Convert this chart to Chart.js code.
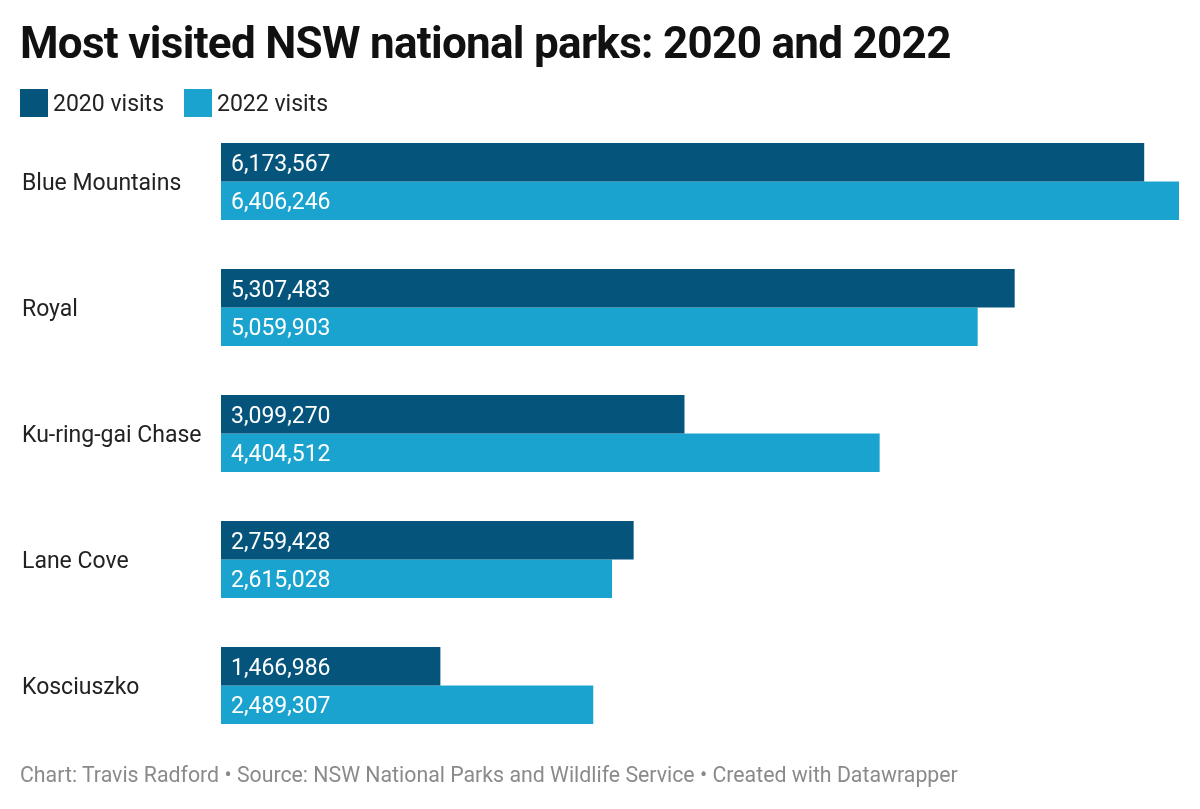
<!DOCTYPE html>
<html>
<head>
<meta charset="utf-8">
<script src="https://cdn.jsdelivr.net/npm/chart.js@4/dist/chart.umd.min.js"></script>
<style>
  html, body { margin: 0; padding: 0; background: #fff; }
  body { width: 1200px; height: 809px; position: relative; overflow: hidden; font-family: Roboto, "Noto Sans", sans-serif; }
  #title { position: absolute; left: 20px; top: 14px; font-size: 44px; font-weight: 700; color: #111; line-height: 58px; letter-spacing: -0.7px; }
  #legend { position: absolute; left: 20px; top: 89px; font-size: 23px; color: #222; display: flex; }
  .item { display: flex; align-items: center; margin-right: 20px; height: 28px; }
  .swatch { width: 28px; height: 28px; margin-right: 5px; }
  #footer { position: absolute; left: 20px; top: 762px; font-size: 21.3px; color: #8a8a8a; line-height: 26px; }
  #wrap { position: absolute; left: 0; top: 0; width: 1200px; height: 809px; }
</style>
</head>
<body>
<div id="wrap"><canvas id="chart" width="1200" height="809"></canvas></div>
<div id="title">Most visited NSW national parks: 2020 and 2022</div>
<div id="legend"></div>
<div id="footer">Chart: Travis Radford • Source: NSW National Parks and Wildlife Service • Created with Datawrapper</div>
<script>
const parks = ["Blue Mountains", "Royal", "Ku-ring-gai Chase", "Lane Cove", "Kosciuszko"];
const visits2020 = [6173567, 5307483, 3099270, 2759428, 1466986];
const visits2022 = [6406246, 5059903, 4404512, 2615028, 2489307];
const seriesNames = ["2020 visits", "2022 visits"];
const colors = ["#04547c", "#1aa3cf"];

// simple html legend
const legend = document.getElementById("legend");
seriesNames.forEach((name, i) => {
  const item = document.createElement("div");
  item.className = "item";
  item.innerHTML = '<span class="swatch" style="background:' + colors[i] + '"></span>' + name;
  legend.appendChild(item);
});

// white value labels inside the bars
const valueLabels = {
  id: "valueLabels",
  afterDatasetsDraw(chart) {
    const c = chart.ctx;
    c.save();
    c.fillStyle = "#fff";
    c.font = "23px Roboto";
    c.textBaseline = "middle";
    c.textAlign = "left";
    chart.data.datasets.forEach((ds, i) => {
      chart.getDatasetMeta(i).data.forEach((bar, j) => {
        c.fillText(ds.data[j].toLocaleString("en-US"), bar.base + 10, bar.y + 2.5);
      });
    });
    c.restore();
  },
};

const ctx = document.getElementById("chart");
new Chart(ctx, {
  type: "bar",
  data: {
    labels: parks,
    datasets: [
      { label: seriesNames[0], data: visits2020, backgroundColor: colors[0] },
      { label: seriesNames[1], data: visits2022, backgroundColor: colors[1] },
    ],
  },
  options: {
    indexAxis: "y",
    responsive: false,
    animation: false,
    devicePixelRatio: 1,
    barPercentage: 1,
    categoryPercentage: 0.611,
    layout: { padding: { left: 22, right: 21, top: 118.5, bottom: 60.5 } },
    plugins: { legend: { display: false }, tooltip: { enabled: false } },
    scales: {
      x: {
        display: false,
        min: 0,
        max: Math.max(...visits2022),
      },
      y: {
        grid: { display: false },
        border: { display: false },
        afterFit: (scale) => {
          scale.width = 199;
        },
        ticks: {
          crossAlign: "far",
          labelOffset: 3,
          color: "#222",
          font: { family: "Roboto", size: 23 },
        },
      },
    },
  },
  plugins: [valueLabels],
});
</script>
</body>
</html>
